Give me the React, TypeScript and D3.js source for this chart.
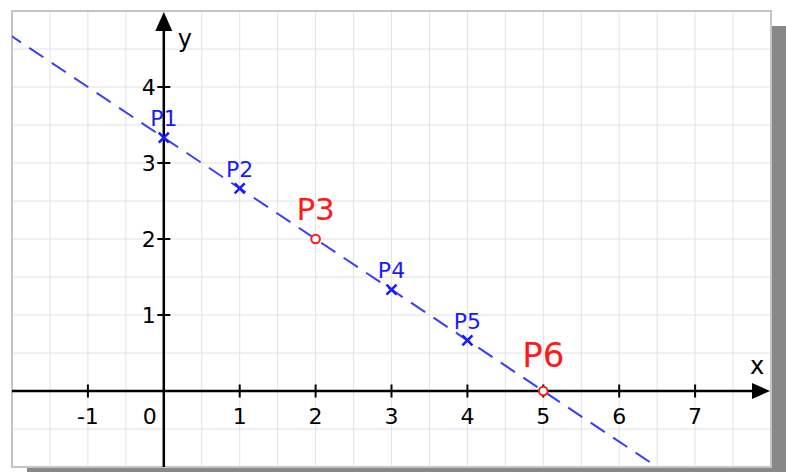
import React from "react";
import * as d3 from "d3";

// Coordinate window and grid
const xDomain = [-2, 8];
const yDomain = [-1, 5];
const gridStep = 0.5;

// Axis ticks
const xTicks = [-1, 1, 2, 3, 4, 5, 6, 7];
const yTicks = [1, 2, 3, 4];
const originLabel = "0";

// Points on the line y = -2/3 x + 10/3
const pointNames = ["P1", "P2", "P3", "P4", "P5", "P6"];
const pointX = [0, 1, 2, 3, 4, 5];
const pointY = [3.333, 2.667, 2, 1.333, 0.667, 0];
const pointKinds = ["cross", "cross", "circle", "cross", "cross", "circle"];
const labelSizes = [22, 22, 31, 22, 22, 34];
const labelGaps = [11.5, 11.5, 19, 11.5, 11.5, 24];

// The dashed line runs through these two points
const lineThrough = [
  [2, 2],
  [5, 0],
];

const W = 786;
const H = 472;
const frame = { left: 12, top: 11, right: 771, bottom: 467 };
const shadow = 15;
const font = "'DejaVu Sans', Verdana, sans-serif";
const BLUE = "#1a1aff";
const LINE_BLUE = "#3b3bff";
const RED = "#ff1a1a";

export default function App() {
  const x = d3.scaleLinear().domain(xDomain).range([frame.left, frame.right]);
  const y = d3.scaleLinear().domain(yDomain).range([frame.bottom, frame.top]);

  const gx = d3.range(xDomain[0], xDomain[1] + 1e-9, gridStep);
  const gy = d3.range(yDomain[0], yDomain[1] + 1e-9, gridStep);

  const [[ax, ay], [bx, by]] = lineThrough;
  const slope = (by - ay) / (bx - ax);
  const lx0 = xDomain[0] - 1;
  const lx1 = xDomain[1] + 1;
  const linePath = d3.line<number>()
    .x((v) => x(v))
    .y((v) => y(ay + slope * (v - ax)))([lx0, lx1]);

  const x0 = x(0);
  const y0 = y(0);

  return (
    <svg
      width={W}
      height={H}
      style={{ position: "fixed", left: 0, top: 0, background: "#fff" }}
    >
      <defs>
        <clipPath id="plot">
          <rect
            x={frame.left}
            y={frame.top}
            width={frame.right - frame.left}
            height={frame.bottom - frame.top}
          />
        </clipPath>
      </defs>
      {/* drop shadow */}
      <rect
        x={frame.left + shadow}
        y={frame.top + shadow}
        width={frame.right - frame.left}
        height={frame.bottom - frame.top}
        fill="#888"
      />
      <rect
        x={frame.left}
        y={frame.top}
        width={frame.right - frame.left}
        height={frame.bottom - frame.top}
        fill="#fff"
      />
      {/* grid */}
      <g stroke="#e2e2e2" strokeWidth={1}>
        {gx.map((v) => (
          <line key={"gx" + v} x1={x(v)} x2={x(v)} y1={frame.top} y2={frame.bottom} />
        ))}
        {gy.map((v) => (
          <line key={"gy" + v} y1={y(v)} y2={y(v)} x1={frame.left} x2={frame.right} />
        ))}
      </g>
      <rect
        x={frame.left}
        y={frame.top}
        width={frame.right - frame.left}
        height={frame.bottom - frame.top}
        fill="none"
        stroke="#c4c4c4"
        strokeWidth={2}
      />
      {/* axes */}
      <g stroke="#000" strokeWidth={2.5}>
        <line x1={frame.left} x2={frame.right - 16} y1={y0} y2={y0} />
        <line x1={x0} x2={x0} y1={frame.bottom} y2={frame.top + 16} />
        {xTicks.map((t) => (
          <line key={"xt" + t} x1={x(t)} x2={x(t)} y1={y0 - 6.5} y2={y0 + 6.5} strokeWidth={2} />
        ))}
        {yTicks.map((t) => (
          <line key={"yt" + t} x1={x0 - 6.5} x2={x0 + 6.5} y1={y(t)} y2={y(t)} strokeWidth={2} />
        ))}
      </g>
      <path
        d={`M${frame.right - 1},${y0} L${frame.right - 19},${y0 - 8} L${frame.right - 19},${y0 + 8} Z`}
        fill="#000"
      />
      <path
        d={`M${x0},${frame.top + 1} L${x0 - 8.5},${frame.top + 20} L${x0 + 8.5},${frame.top + 20} Z`}
        fill="#000"
      />
      <g fontFamily={font} fontSize={22} fill="#000">
        {xTicks.map((t) => (
          <text key={"xl" + t} x={x(t)} y={y0 + 33} textAnchor="middle">
            {String(t)}
          </text>
        ))}
        <text x={x0 - 7} y={y0 + 33} textAnchor="end">
          {originLabel}
        </text>
        {yTicks.map((t) => (
          <text key={"yl" + t} x={x0 - 8} y={y(t) + 8} textAnchor="end">
            {String(t)}
          </text>
        ))}
        <text x={frame.right - 14} y={y0 - 17} textAnchor="middle" fontSize={24}>
          x
        </text>
        <text x={x0 + 21} y={frame.top + 36} textAnchor="middle" fontSize={24}>
          y
        </text>
      </g>
      {/* dashed line */}
      <path
        d={linePath ?? ""}
        clipPath="url(#plot)"
        fill="none"
        stroke={LINE_BLUE}
        strokeWidth={2}
        strokeDasharray="17 10"
        strokeDashoffset={-4}
      />
      {/* points */}
      {pointNames.map((name, i) => {
        const px = x(pointX[i]);
        const py = y(pointY[i]);
        const isCircle = pointKinds[i] === "circle";
        const color = isCircle ? RED : BLUE;
        const s = 5;
        return (
          <g key={name}>
            {isCircle ? (
              <circle cx={px} cy={py} r={4.3} fill="#fff" stroke={color} strokeWidth={2} />
            ) : (
              <path
                d={`M${px - s},${py - s} L${px + s},${py + s} M${px - s},${py + s} L${px + s},${py - s}`}
                stroke={color}
                strokeWidth={2.6}
              />
            )}
            <text
              x={px}
              y={py - labelGaps[i]}
              textAnchor="middle"
              fontFamily={font}
              fontSize={labelSizes[i]}
              fill={color}
            >
              {name}
            </text>
          </g>
        );
      })}
    </svg>
  );
}
